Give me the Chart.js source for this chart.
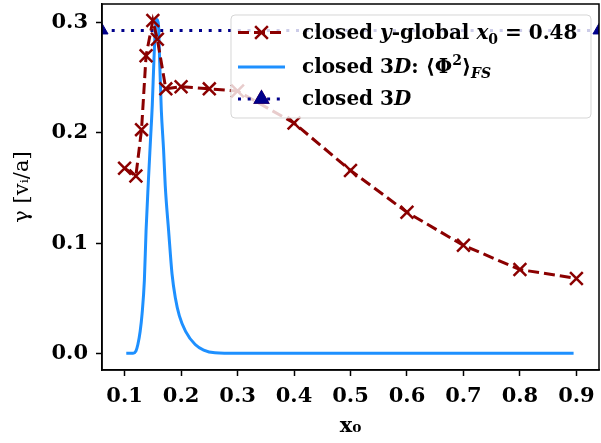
<!DOCTYPE html>
<html>
<head>
<meta charset="utf-8">
<script src="https://cdn.jsdelivr.net/npm/chart.js@4.4.1/dist/chart.umd.min.js"></script>
<style>
  html, body { margin: 0; padding: 0; background: #fff; }
  #wrap { width: 601px; height: 443px; }
</style>
</head>
<body>
<div id="wrap"><canvas id="chart" width="601" height="443"></canvas></div>
<script>
// closed y-global scan, x0 = 0.48
const globalX = [0.1, 0.12, 0.13, 0.138, 0.15, 0.158, 0.173, 0.2, 0.25, 0.3, 0.4, 0.5, 0.6, 0.7, 0.8, 0.9];
const globalY = [0.168, 0.161, 0.203, 0.270, 0.302, 0.285, 0.240, 0.242, 0.240, 0.238, 0.209, 0.166, 0.128, 0.098, 0.076, 0.068];

// closed 3D: <Phi^2>_FS profile
const fsX = [0.103, 0.115, 0.12, 0.1235, 0.1276, 0.131, 0.135, 0.138, 0.142, 0.146, 0.149, 0.152, 0.155, 0.1575,
             0.16, 0.162, 0.165, 0.169, 0.172, 0.178, 0.184, 0.19, 0.197, 0.208, 0.225, 0.24, 0.26, 0.3, 0.5, 0.7, 0.895];
const fsY = [0.0, 0.0, 0.002, 0.008, 0.020, 0.036, 0.066, 0.111, 0.155, 0.195, 0.225, 0.267, 0.298, 0.303,
             0.298, 0.267, 0.221, 0.185, 0.152, 0.111, 0.072, 0.050, 0.034, 0.020, 0.008, 0.003, 0.0005, 0.0, 0.0, 0.0, 0.0];

// closed 3D growth rate
const refX = [0.06, 0.94];
const refY = [0.293, 0.293];

const xTicks = [0.1, 0.2, 0.3, 0.4, 0.5, 0.6, 0.7, 0.8, 0.9];
const yTicks = [0.0, 0.1, 0.2, 0.3];

const SERIF = '"DejaVu Serif", serif';
const RED = '#8b0000';
const BLUE = '#1e90ff';
const NAVY = '#00008b';

const pts = (xs, ys) => xs.map((x, i) => ({ x: x, y: ys[i] }));

// legend rows: pieces of text with their own style (b = bold, bi = bold italic)
const legendRows = [
    { color: RED, dash: [11, 5], marker: 'crossRot', parts: [
        ['closed ', 'b'], ['y', 'bi'], ['-global ', 'b'], ['x', 'bi'], ['0', 'sub'], [' = 0.48', 'b']] },
    { color: BLUE, dash: [], marker: null, parts: [
        ['closed ', 'b'], ['3', 'b'], ['D', 'bi'], [': \u27E8\u03A6', 'b'], ['2', 'sup'], ['\u27E9', 'b'], ['FS', 'subi']] },
    { color: NAVY, dash: [3, 6.7], marker: 'triangle', parts: [
        ['closed ', 'b'], ['3', 'b'], ['D', 'bi']] }
];

function partFont(style, size) {
    if (style === 'bi') return `italic bold ${size}px ${SERIF}`;
    if (style === 'sub' || style === 'sup') return `bold ${Math.round(size * 0.7)}px ${SERIF}`;
    if (style === 'subi') return `italic bold ${Math.round(size * 0.7)}px ${SERIF}`;
    return `bold ${size}px ${SERIF}`;
}

const framePlugin = {
    id: 'frameAndLegend',
    afterDatasetsDraw(chart) {
        const ctx = chart.ctx;
        const a = chart.chartArea;
        ctx.save();
        ctx.strokeStyle = '#000';
        ctx.lineWidth = 1.5;
        ctx.strokeRect(a.left, a.top, a.right - a.left, a.bottom - a.top);

        // legend box
        const bx = 231, by = 15, bw = 360, bh = 103;
        ctx.beginPath();
        ctx.roundRect(bx, by, bw, bh, 4);
        ctx.fillStyle = 'rgba(255,255,255,0.8)';
        ctx.fill();
        ctx.strokeStyle = 'rgba(204,204,204,0.8)';
        ctx.lineWidth = 1;
        ctx.stroke();

        const size = 20;
        const rowY = [32.5, 67, 99];
        legendRows.forEach((row, i) => {
            const y = rowY[i];
            ctx.save();
            ctx.strokeStyle = row.color;
            ctx.lineWidth = 3;
            ctx.setLineDash(row.dash);
            ctx.beginPath();
            ctx.moveTo(238, y);
            ctx.lineTo(285, y);
            ctx.stroke();
            ctx.restore();
            if (row.marker) {
                Chart.helpers.drawPoint(ctx, {
                    pointStyle: row.marker, radius: row.marker === 'triangle' ? 7 : 9,
                    rotation: 0, borderWidth: 2.5
                }, 261.5, y);
                ctx.fillStyle = row.color;
                ctx.strokeStyle = row.color;
                ctx.lineWidth = 2.5;
                if (row.marker === 'triangle') ctx.fill();
                ctx.stroke();
            }
            let x = 302;
            ctx.fillStyle = '#000';
            ctx.textBaseline = 'alphabetic';
            row.parts.forEach(([t, s]) => {
                ctx.font = partFont(s, size);
                let dy = 0;
                if (s === 'sub' || s === 'subi') dy = 5;
                if (s === 'sup') dy = -8;
                ctx.fillText(t, x, y + 6 + dy);
                x += ctx.measureText(t).width;
            });
        });
        ctx.restore();
    }
};

const fixTicks = list => scale => { scale.ticks = list.map(v => ({ value: v })); };

new Chart(document.getElementById('chart'), {
    type: 'scatter',
    data: {
        datasets: [
            {
                label: 'closed y-global x0 = 0.48',
                data: pts(globalX, globalY),
                showLine: true,
                borderColor: RED,
                backgroundColor: RED,
                borderWidth: 3,
                borderDash: [11, 5],
                pointStyle: 'crossRot',
                pointRadius: 9,
                pointBorderWidth: 2.5,
                tension: 0
            },
            {
                label: 'closed 3D: <Phi^2>_FS',
                data: pts(fsX, fsY),
                showLine: true,
                borderColor: BLUE,
                borderWidth: 3,
                pointRadius: 0,
                cubicInterpolationMode: 'monotone'
            },
            {
                label: 'closed 3D',
                data: pts(refX, refY),
                showLine: true,
                borderColor: NAVY,
                backgroundColor: NAVY,
                borderWidth: 3,
                borderDash: [3, 6.7],
                pointStyle: 'triangle',
                pointRadius: 7,
                pointBorderWidth: 1
            }
        ]
    },
    options: {
        responsive: false,
        animation: false,
        devicePixelRatio: 1,
        layout: { autoPadding: false, padding: { top: 4, right: 2, left: 0, bottom: 0 } },
        plugins: {
            legend: { display: false },
            tooltip: { enabled: false }
        },
        scales: {
            x: {
                type: 'linear',
                min: 0.06,
                max: 0.94,
                afterBuildTicks: fixTicks(xTicks),
                afterFit: s => { s.height = 73; s.paddingLeft = 0; s.paddingRight = 0; },
                grid: { drawOnChartArea: false, drawTicks: true, tickLength: 6, color: '#000', tickWidth: 1.5 },
                border: { display: true, color: '#000', width: 1.5 },
                ticks: {
                    color: '#000',
                    padding: 8,
                    maxRotation: 0,
                    font: { family: SERIF, weight: 'bold', size: 21 },
                    callback: v => v.toFixed(1)
                },
                title: {
                    display: true,
                    text: 'x\u2080',
                    color: '#000',
                    padding: { top: 2, bottom: 4 },
                    font: { family: SERIF, weight: 'bold', size: 21 }
                }
            },
            y: {
                type: 'linear',
                min: -0.0151,
                max: 0.317,
                afterBuildTicks: fixTicks(yTicks),
                afterFit: s => { s.width = 102; s.paddingTop = 0; s.paddingBottom = 0; },
                grid: { drawOnChartArea: false, drawTicks: true, tickLength: 6, color: '#000', tickWidth: 1.5 },
                border: { display: true, color: '#000', width: 1.5 },
                ticks: {
                    color: '#000',
                    padding: 8,
                    font: { family: SERIF, weight: 'bold', size: 21 },
                    callback: v => v.toFixed(1)
                },
                title: {
                    display: true,
                    text: '\u03B3 [v\u1D62/a]',
                    color: '#000',
                    padding: { top: 10, bottom: 0 },
                    font: { family: SERIF, size: 21 }
                }
            }
        }
    },
    plugins: [framePlugin]
});
</script>
</body>
</html>
